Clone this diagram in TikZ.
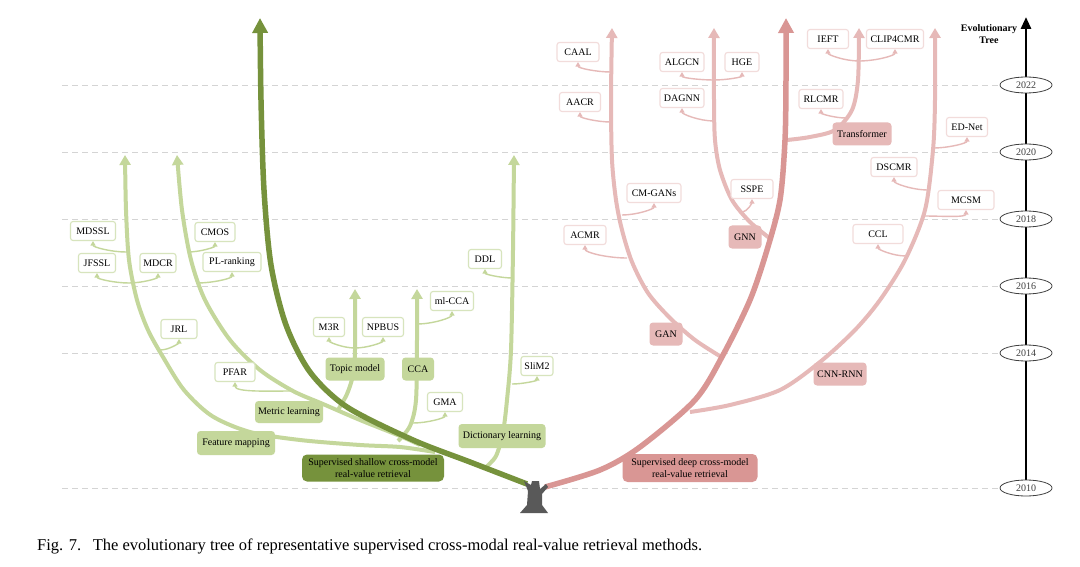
\documentclass[tikz,border=0pt]{standalone}
\usepackage{fontspec}
\setmainfont{Liberation Serif}
\usetikzlibrary{arrows.meta,shapes.geometric}
\pgfdeclarelayer{back}
\pgfdeclarelayer{bg}
\pgfsetlayers{back,bg,main}
\definecolor{dg}{HTML}{76923C}
\definecolor{lg}{HTML}{C4D79B}
\definecolor{lgb}{HTML}{D7E4BD}
\definecolor{rm}{HTML}{D99694}
\definecolor{lr}{HTML}{E6B9B8}
\definecolor{lrb}{HTML}{F2DCDB}
\definecolor{gridc}{HTML}{D4D4D4}
\definecolor{stumpc}{HTML}{595959}
\begin{document}
\begin{tikzpicture}[x=1pt,y=-1pt,
  txt/.style={font=\fontsize{10}{12}\selectfont, text=black},
  leafg/.style={txt, draw=lgb, line width=1.1pt, fill=white, rounded corners=2.5pt, minimum height=19pt, inner xsep=2pt, inner ysep=0pt},
  leafr/.style={leafg, draw=lrb},
  bw/.style={minimum width=#1},
  catg/.style={txt, fill=lg, rounded corners=3.5pt, minimum height=23pt, inner xsep=2pt, inner ysep=0pt},
  catr/.style={catg, fill=lr},
  maing/.style={font=\fontsize{10}{11.5}\selectfont, text=black, align=center, fill=dg, rounded corners=5pt, minimum width=142pt, minimum height=27pt, inner sep=1pt},
  mainr/.style={maing, fill=rm, minimum width=135pt, minimum height=28pt},
  yearnode/.style={ellipse, draw=black!75, line width=0.8pt, fill=white, minimum width=52pt, minimum height=16pt, inner sep=0pt, font=\fontsize{10}{12}\selectfont, text=black!75},
  gridl/.style={draw=gridc, line width=0.9pt, dash pattern=on 6pt off 4pt},
  gbr/.style={draw=lg, line width=4pt, -{Triangle[width=11pt,length=10pt]}},
  dgbr/.style={draw=dg, line width=5.5pt, -{Triangle[width=15pt,length=15pt]}},
  rbr/.style={draw=lr, line width=4pt, -{Triangle[width=11pt,length=10pt]}},
  rmbr/.style={draw=rm, line width=5.5pt, -{Triangle[width=15pt,length=15pt]}},
  twg/.style={draw=lg, line width=1.4pt, -{Triangle[width=5pt,length=4.5pt]}, out looseness=1.1, in looseness=0.45},
  twr/.style={twg, draw=lr},
]
\useasboundingbox (0,0) rectangle (1080,567);
\begin{pgfonlayer}{back}
\fill[white] (0,0) rectangle (1080,567);
\end{pgfonlayer}

% ---------- timeline ----------
\node[yearnode] (y2022) at (1026,85) {2022};
\node[yearnode] (y2020) at (1026,152) {2020};
\node[yearnode] (y2018) at (1026,219) {2018};
\node[yearnode] (y2016) at (1026,286) {2016};
\node[yearnode] (y2014) at (1026,353) {2014};
\node[yearnode] (y2010) at (1026,488) {2010};
\node[font=\bfseries\fontsize{10}{12}\selectfont, align=center, inner sep=0pt] (evo) at (989,34) {Evolutionary\\Tree};
\coordinate (axtop) at (1026,17);

% ---------- green leaves ----------
\node[leafg, bw=45pt] (mdssl) at (93,231) {MDSSL};
\node[leafg, bw=40pt] (cmos) at (215,232) {CMOS};
\node[leafg, bw=37pt] (jfssl) at (97,263) {JFSSL};
\node[leafg, bw=36pt] (mdcr) at (158,263) {MDCR};
\node[leafg, bw=58pt] (plr) at (232,262) {PL-ranking};
\node[leafg, bw=36pt] (jrl) at (179,329) {JRL};
\node[leafg, bw=40pt] (pfar) at (235,372) {PFAR};
\node[leafg, bw=31pt] (m3r) at (329,327) {M3R};
\node[leafg, bw=41pt] (npbus) at (383,327) {NPBUS};
\node[leafg, bw=43pt] (mlcca) at (452,301) {ml-CCA};
\node[leafg, bw=33pt] (ddl) at (485,259) {DDL};
\node[leafg, bw=35pt] (gma) at (445,402) {GMA};
\node[leafg, bw=32pt] (slim) at (537,366) {SliM2};

% ---------- green categories ----------
\node[catg, bw=78pt, minimum height=24pt] (fm) at (236,443) {Feature mapping};
\node[catg, bw=68pt, minimum height=22pt] (ml) at (289,412) {Metric learning};
\node[catg, bw=59pt] (tm) at (355,369) {Topic model};
\node[catg, bw=32pt] (cca) at (418,369) {CCA};
\node[catg, bw=87pt, minimum height=24pt] (dl) at (502,436) {Dictionary learning};
\node[maing] (shallow) at (373,468) {Supervised shallow cross-model\\real-value retrieval};

% ---------- red leaves ----------
\node[leafr, bw=42pt] (caal) at (578,52) {CAAL};
\node[leafr, bw=41pt] (aacr) at (580,102) {AACR};
\node[leafr, bw=54pt] (cmgans) at (654,193) {CM-GANs};
\node[leafr, bw=42pt] (acmr) at (585,235) {ACMR};
\node[leafr, bw=44pt] (algcn) at (682,62) {ALGCN};
\node[leafr, bw=34pt] (hge) at (742,62) {HGE};
\node[leafr, bw=44pt] (dagnn) at (682,98) {DAGNN};
\node[leafr, bw=42pt] (sspe) at (752,189) {SSPE};
\node[leafr, bw=41pt] (ieft) at (828,39) {IEFT};
\node[leafr, bw=57pt] (clip) at (895,39) {CLIP4CMR};
\node[leafr, bw=44pt] (rlcmr) at (821,99) {RLCMR};
\node[leafr, bw=50pt] (ccl) at (878,234) {CCL};
\node[leafr, bw=56pt] (mcsm) at (966,200) {MCSM};
\node[leafr, bw=46pt] (dscmr) at (894,167) {DSCMR};
\node[leafr, bw=41pt] (ednet) at (967,127) {ED-Net};

% ---------- red categories ----------
\node[catr, bw=33pt] (gan) at (666,334) {GAN};
\node[catr, bw=33pt] (gnn) at (745,237) {GNN};
\node[catr, bw=59pt] (trans) at (862,134) {Transformer};
\node[catr, bw=53pt] (cnnrnn) at (840,374) {CNN-RNN};
\node[mainr] (deep) at (690,468) {Supervised deep cross-model\\real-value retrieval};

% ---------- caption ----------
\node[anchor=west, inner sep=0pt, font=\fontsize{16.5}{18}\selectfont] (caption) at (37,546) {Fig. 7.\hspace{0.7em}The evolutionary tree of representative supervised cross-modal real-value retrieval methods.};

% ---------- branch coordinates ----------
\coordinate (gbase) at (527,484);
\coordinate (gtip) at (260,18);
\coordinate (rbase) at (545,487);
\coordinate (rtip) at (786,18);

\begin{pgfonlayer}{bg}
% grid
\foreach \n/\yy in {y2022/85,y2020/152,y2018/219,y2016/286,y2014/353,y2010/488}
  \draw[gridl] (62,\yy) -- (\n.west);
\draw[line width=2.8pt, -{Triangle[width=10pt,length=12pt]}] (y2010.center) -- (axtop);

% light green branches
\draw[gbr] plot[smooth] coordinates {(435,452) (400,447) (360,445) (300,440) (250,432) (212,416) (184,390) (163,357) (148,330) (137,300) (129,260) (126,210) (125,155)};
\draw[gbr] plot[smooth] coordinates {(420,445) (400,436) (360,420) (323,404) (293,391) (260,370) (230,340) (205,300) (191,260) (182,210) (177,155)};
\draw[gbr] plot[smooth] coordinates {(338,410) (347,394) (353,375) (355,350) (355,289)};
\draw[gbr] plot[smooth] coordinates {(398,441) (410,426) (416,400) (417,340) (417,289)};
\draw[gbr] plot[smooth] coordinates {(485,468) (496,456) (503,432) (507,400) (511,350) (513,250) (514,155)};

% green twigs
\draw[twg] (126,252) to[out=180,in=-90] (mdssl.south);
\draw[twg] (129,283) to[out=180,in=-90] (jfssl.south);
\draw[twg] (129,283) to[out=0,in=-90] (mdcr.south);
\draw[twg] (188,252) to[out=0,in=-90] (cmos.south);
\draw[twg] (197,283) to[out=0,in=-90] (plr.south);
\draw[twg] (160,350) to[out=0,in=-90] (jrl.south);
\draw[twg] (293,391) to[out=180,in=-90] (pfar.south);
\draw[twg] (355,348) to[out=180,in=-90] (m3r.south);
\draw[twg] (355,348) to[out=0,in=-90] (npbus.south);
\draw[twg] (417,324) to[out=0,in=-90] (mlcca.south);
\draw[twg] (413,423) to[out=0,in=-90] (gma.south);
\draw[twg] (513,278) to[out=180,in=-90] (ddl.south);
\draw[twg] (512,384) to[out=0,in=-90] (slim.south);

% dark green branch
\draw[dgbr] plot[smooth] coordinates {(gbase) (470,462) (413,440) (347,407) (310,372) (286,325) (271,265) (264,190) (261,100) (gtip)};

% light red branches
\draw[rbr] plot[smooth] coordinates {(723,358) (695,340) (670,318) (648,293) (632,262) (622,230) (616,200) (612,160) (611,100) (612,28)};
\draw[rbr] plot[smooth] coordinates {(772,240) (750,222) (732,200) (720,170) (715,140) (714,100) (714,28)};
\draw[rbr] plot[smooth] coordinates {(787,140) (810,137) (835,130) (852,110) (858,80) (859,28)};
\draw[rbr] plot[smooth] coordinates {(690,412) (730,405) (780,390) (820,362) (855,330) (880,300) (905,260) (925,210) (933,150) (935,100) (935,28)};

% red twigs
\draw[twr] (611,72) to[out=180,in=-90] (caal.south);
\draw[twr] (611,122) to[out=180,in=-90] (aacr.south);
\draw[twr] (622,215) to[out=0,in=-90] (cmgans.south);
\draw[twr] (627,258) to[out=180,in=-90] (acmr.south);
\draw[twr] (714,80) to[out=180,in=-90] (algcn.south);
\draw[twr] (714,80) to[out=0,in=-90] (hge.south);
\draw[twr] (714,121) to[out=180,in=-90] (dagnn.south);
\draw[twr] (741,212) to[out=0,in=-90] (sspe.south);
\draw[twr] (859,61) to[out=180,in=-90] (ieft.south);
\draw[twr] (859,61) to[out=0,in=-90] (clip.south);
\draw[twr] (846,118) to[out=180,in=-90] (rlcmr.south);
\draw[twr] (906,256) to[out=180,in=-90] (ccl.south);
\draw[twr] (923,216) to[out=0,in=-90] (mcsm.south);
\draw[twr] (928,190) to[out=180,in=-90] (dscmr.south);
\draw[twr] (933,148) to[out=0,in=-90] (ednet.south);

% main red branch
\draw[rmbr] plot[smooth] coordinates {(rbase) (600,470) (640,447) (695,400) (723,355) (750,300) (767,250) (780,200) (785,140) (786,80) (rtip)};

% stump
\fill[stumpc] (524,481) -- (531,485) -- (532,481) -- (539,481) -- (540,489) -- (546,484) -- (548,487) -- (542,494) -- (542,505) -- (548,513) -- (520,513) -- (527,505) -- (528,491) -- cycle;
\end{pgfonlayer}
\end{tikzpicture}
\end{document}
